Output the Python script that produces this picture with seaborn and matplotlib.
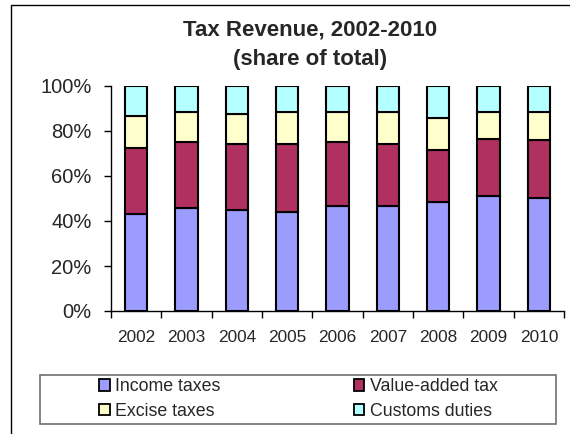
import numpy as np
import matplotlib
matplotlib.use("Agg")
import matplotlib.pyplot as plt
import seaborn as sns
from matplotlib.patches import Patch, Rectangle

years = ['2002', '2003', '2004', '2005', '2006', '2007', '2008', '2009', '2010']
income = [43.1, 45.9, 44.9, 44.0, 46.7, 46.7, 48.4, 51.1, 50.4]
vat = [29.2, 29.2, 29.3, 30.2, 28.4, 27.5, 23.2, 25.5, 25.4]
excise = [14.4, 13.2, 13.5, 14.2, 13.2, 14.2, 14.2, 11.7, 12.5]
customs = [13.3, 11.7, 12.3, 11.6, 11.7, 11.6, 14.2, 11.7, 11.7]
series = ['Income taxes', 'Value-added tax', 'Excise taxes', 'Customs duties']
colors = ['#9C9CFF', '#B03060', '#FFFFCC', '#B4FFFF']

sns.set_style('white')
plt.rcParams['font.family'] = ['Liberation Sans', 'DejaVu Sans']

fig = plt.figure(figsize=(5.7, 4.34), dpi=100)
ax = fig.add_axes([111 / 570, 1 - 311 / 434, 453 / 570, 225 / 434])

bottom = np.zeros(len(years))
for name, vals, c in zip(series, [income, vat, excise, customs], colors):
    sns.barplot(x=years, y=vals, bottom=bottom, color=c, edgecolor='black',
                linewidth=1.5, width=0.44, ax=ax, saturation=1)
    bottom += np.array(vals)

ax.set_xlim(-0.5, len(years) - 0.5)
ax.set_ylim(0, 100)
ax.set_yticks(range(0, 101, 20))
ax.set_yticklabels(['%d%%' % v for v in range(0, 101, 20)], fontsize=14.5)
ax.tick_params(axis='y', length=5, width=1, pad=9, color='black', direction='out', left=True)
ax.set_xticks(range(len(years)))
ax.set_xticklabels(years, fontsize=12.4)
ax.set_xticks(np.arange(-0.5, len(years)), minor=True)
ax.tick_params(axis='x', which='major', length=0, pad=14)
ax.tick_params(axis='x', which='minor', length=5, width=1, color='black', direction='out', bottom=True)
ax.set_xlabel('')
ax.set_ylabel('')
for s in ['top', 'right']:
    ax.spines[s].set_visible(False)
for s in ['left', 'bottom']:
    ax.spines[s].set_color('black')
    ax.spines[s].set_linewidth(1)

fig.text(310 / 570, 1 - 30 / 434, 'Tax Revenue, 2002-2010', ha='center', va='center',
         fontsize=16, fontweight='bold')
fig.text(310 / 570, 1 - 59 / 434, '(share of total)', ha='center', va='center',
         fontsize=16, fontweight='bold')

# outer chart frame (cut off at right and bottom)
fig.add_artist(Rectangle((11 / 570, -0.1), 1.2, 1.1 - 5 / 434, transform=fig.transFigure,
                         fill=False, edgecolor='black', linewidth=1))

# legend box
fig.add_artist(Rectangle((40 / 570, 1 - 424 / 434), 516 / 570, 49 / 434, transform=fig.transFigure,
                         fill=False, edgecolor='#707070', linewidth=1.2))

handles = [Patch(facecolor=c, edgecolor='black', linewidth=1.3) for c in colors]
order = [0, 2, 1, 3]
leg = fig.legend([handles[i] for i in order], [series[i] for i in order],
                 loc='center left', ncol=2,
                 bbox_to_anchor=(90 / 570, 1 - 399 / 434),
                 bbox_transform=fig.transFigure, fontsize=12.8, frameon=False,
                 handlelength=0.6, handleheight=0.6,
                 handletextpad=0.3, labelspacing=0.42, borderpad=0,
                 columnspacing=7.5)

fig.savefig('out.png', dpi=100)
